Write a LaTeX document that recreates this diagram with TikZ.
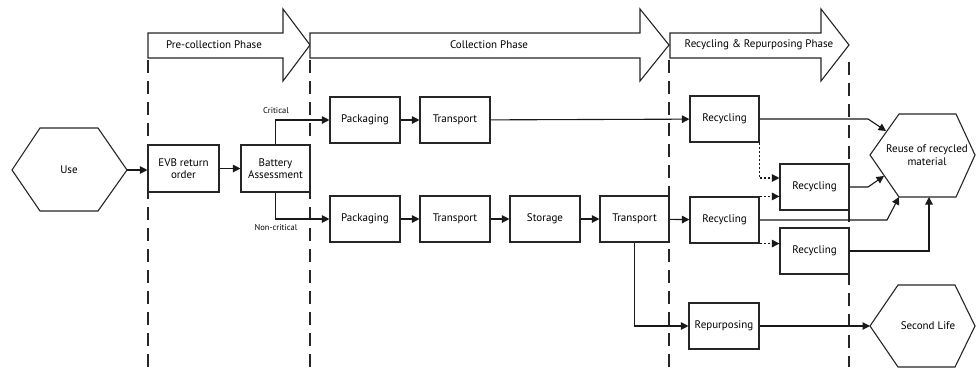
\documentclass[tikz,border=0pt]{standalone}
\usepackage{fontspec}
\setmainfont{PT Sans}
\usetikzlibrary{arrows.meta,calc}
\begin{document}
\begin{tikzpicture}[x=1pt,y=-1pt,
  box/.style={draw=black!85, line width=1.1pt, fill=white, minimum width=70pt, minimum height=46pt, inner sep=1pt, align=center, font=\fontsize{11}{12.5}\selectfont},
  txt/.style={align=center, inner sep=0pt, font=\fontsize{11}{12.5}\selectfont},
  conn/.style={draw=black!90, line width=1.1pt, -{Triangle[length=7.5pt,width=7.5pt]}},
  dots/.style={conn, dash pattern=on 2pt off 2pt},
  outline/.style={draw=black!85, line width=1.1pt, fill=white},
  sep/.style={draw=black!85, line width=1.1pt, dash pattern=on 13pt off 8pt},
  lbl/.style={inner sep=0pt, font=\fontsize{8.5}{10}\selectfont}]
\useasboundingbox (0,0) rectangle (976,367);

% phase arrows
\draw[outline] (148,33) -- (283,33) -- (283,9) -- (310,45) -- (283,81) -- (283,58) -- (148,58) -- cycle;
\draw[outline] (310,33) -- (640,33) -- (640,9) -- (669,45) -- (640,81) -- (640,58) -- (310,58) -- cycle;
\draw[outline] (670,33) -- (821,33) -- (821,9) -- (849,45) -- (821,81) -- (821,58) -- (670,58) -- cycle;
\node[txt] (ph1) at (214,45) {Pre-collection Phase};
\node[txt] (ph2) at (489,45) {Collection Phase};
\node[txt] (ph3) at (759,45) {Recycling \& Repurposing Phase};

% separators
\draw[sep] (148,60) -- (148,367);
\draw[sep] (310,60) -- (310,367);
\draw[sep] (669,60) -- (669,367);
\draw[sep] (849,62) -- (849,367);

% hexagons
\draw[outline] (12,170) -- (40,128) -- (98,128) -- (127,170) -- (98,211) -- (40,211) -- cycle;
\node[txt] (use) at (69,170) {Use};
\coordinate (useR) at (127,170);

\draw[outline] (870,155) -- (899,114) -- (956,114) -- (975,155) -- (956,197) -- (899,197) -- cycle;
\node[txt] (reuse) at (927,155) {Reuse of recycled\\material};
\coordinate (ru1) at (886,131);
\coordinate (ru2) at (884,176);
\coordinate (ru3) at (899,197);
\coordinate (ru4) at (929,197);

\draw[outline] (870,326) -- (898,285) -- (955,285) -- (975,326) -- (955,367) -- (898,367) -- cycle;
\node[txt] (second) at (928,326) {Second Life};
\coordinate (slL) at (870,326);

% boxes
\node[box, minimum width=71pt, minimum height=47pt] (evb) at (183.5,168.5) {EVB return\\order};
\node[box, minimum width=69pt, minimum height=47pt] (bat) at (275.5,168.5) {Battery\\Assessment};
\node[box] (pk1) at (365,120) {Packaging};
\node[box] (tr1) at (455,120) {Transport};
\node[box, minimum width=69pt] (rc1) at (724.5,119) {Recycling};
\node[box] (pk2) at (365,219) {Packaging};
\node[box] (tr2) at (455,219) {Transport};
\node[box] (st) at (545,219) {Storage};
\node[box, minimum width=69pt] (tr3) at (634.5,219) {Transport};
\node[box, minimum width=69pt] (rc2) at (724.5,220) {Recycling};
\node[box, minimum width=69pt] (rc3) at (814.5,187) {Recycling};
\node[box, minimum width=69pt] (rc4) at (814.5,251) {Recycling};
\node[box, minimum width=70pt, inner sep=0pt] (rep) at (724,326) {Repurposing};

% connectors
\draw[conn] (useR) -- (evb.west |- useR);
\draw[conn] (evb) -- (bat);
\draw[conn] (bat.north) |- (pk1.west);
\draw[conn] (bat.south) |- (pk2.west);
\node[lbl] (crit) at (276,111) {Critical};
\node[lbl] (ncrit) at (276,228) {Non-critical};
\draw[conn] (pk1) -- (tr1);
\draw[conn] (tr1) -- (rc1);
\draw[conn] (pk2) -- (tr2);
\draw[conn] (tr2) -- (st);
\draw[conn] (st) -- (tr3);
\draw[conn] (tr3) -- (rc2);
\draw[conn] (tr3.south) |- (rep.west);
\draw[conn] (rep) -- (slL);

\draw[dots] (rc1.south east) |- ($(rc3.west)+(0,-9)$);
\draw[dots] (rc2.north east) -- (rc2.north east -| rc3.west);
\draw[dots] (rc2.south east) -- (rc2.south east -| rc4.west);

\draw[conn] (rc1.east) -- (868,119) -- (ru1);
\draw[conn] (rc3.east) -- (868,187) -- (ru2);
\draw[conn] (rc2.east) -- (887,220) -- (ru3);
\draw[conn] (rc4.east) -| (ru4);
\end{tikzpicture}
\end{document}
